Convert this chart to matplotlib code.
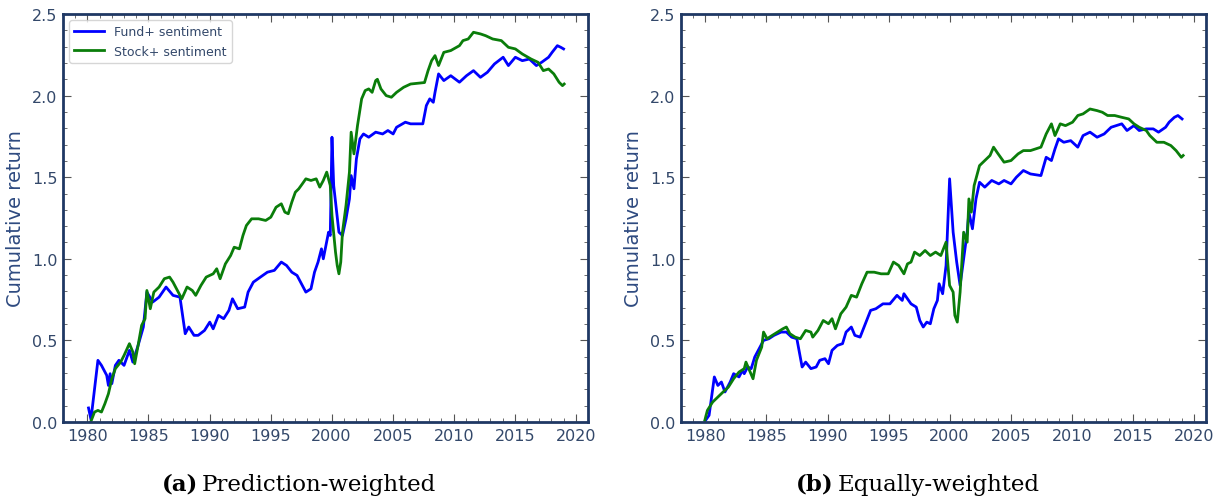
import matplotlib
matplotlib.use("Agg")
import matplotlib.pyplot as plt
from matplotlib.ticker import MultipleLocator

# ---- data ----
# (a) prediction-weighted
a_fund_x = [1980.09, 1980.29, 1980.86, 1981.15, 1981.58, 1981.72, 1981.86, 1982.0, 1982.29, 1982.58,
            1983.0, 1983.44, 1983.72, 1984.15, 1984.58, 1984.87, 1985.35, 1985.87, 1986.44, 1987.01,
            1987.58, 1988.01, 1988.3, 1988.73, 1989.07, 1989.59, 1990.02, 1990.3, 1990.73, 1991.16,
            1991.59, 1991.88, 1992.31, 1992.88, 1993.16, 1993.59, 1994.17, 1994.74, 1995.31, 1995.88,
            1996.31, 1996.74, 1997.17, 1997.6, 1997.89, 1998.31, 1998.6, 1998.89, 1999.17, 1999.32,
            1999.75, 1999.89, 2000.03, 2000.17, 2000.6, 2000.89, 2001.18, 2001.46, 2001.6, 2001.83,
            2002.03, 2002.32, 2002.61, 2003.04, 2003.61, 2004.18, 2004.61, 2005.04, 2005.32, 2006.04,
            2006.47, 2007.47, 2007.76, 2008.04, 2008.33, 2008.47, 2008.76, 2009.19, 2009.76, 2010.47,
            2011.05, 2011.62, 2012.19, 2012.76, 2013.34, 2014.05, 2014.48, 2015.05, 2015.62, 2016.2,
            2016.77, 2017.2, 2017.77, 2018.06, 2018.49, 2018.77, 2019.0]
a_fund_y = [0.086, 0.016, 0.378, 0.347, 0.286, 0.224, 0.296, 0.235, 0.347, 0.378,
            0.347, 0.439, 0.367, 0.469, 0.582, 0.796, 0.735, 0.765, 0.827, 0.776,
            0.765, 0.541, 0.582, 0.531, 0.531, 0.561, 0.612, 0.571, 0.653, 0.633,
            0.684, 0.755, 0.694, 0.704, 0.796, 0.857, 0.888, 0.918, 0.929, 0.98,
            0.959, 0.918, 0.898, 0.837, 0.796, 0.816, 0.918, 0.98, 1.061, 1.0,
            1.163, 1.143, 1.745, 1.449, 1.163, 1.143, 1.245, 1.367, 1.51, 1.429,
            1.612, 1.735, 1.765, 1.745, 1.776, 1.765, 1.786, 1.765, 1.806, 1.837,
            1.827, 1.827, 1.939, 1.98, 1.959, 2.02, 2.133, 2.092, 2.122, 2.082,
            2.122, 2.153, 2.112, 2.143, 2.194, 2.235, 2.184, 2.235, 2.214, 2.224,
            2.184, 2.204, 2.235, 2.265, 2.306, 2.296, 2.286]

a_stock_x = [1980.29, 1980.58, 1980.86, 1981.15, 1981.43, 1981.72, 1982.0, 1982.29, 1982.72, 1983.0,
             1983.44, 1983.72, 1983.87, 1984.15, 1984.44, 1984.72, 1984.87, 1985.15, 1985.44, 1985.87,
             1986.3, 1986.73, 1987.01, 1987.44, 1987.73, 1988.16, 1988.59, 1988.87, 1989.3, 1989.73,
             1990.3, 1990.59, 1990.87, 1991.3, 1991.73, 1992.02, 1992.45, 1992.74, 1993.02, 1993.45,
             1994.02, 1994.6, 1995.02, 1995.45, 1995.88, 1996.17, 1996.45, 1996.74, 1997.03, 1997.31,
             1997.6, 1997.89, 1998.31, 1998.74, 1999.03, 1999.32, 1999.6, 1999.89, 2000.03, 2000.32,
             2000.46, 2000.6, 2000.75, 2000.89, 2001.18, 2001.46, 2001.6, 2001.83, 2002.12, 2002.46,
             2002.75, 2003.04, 2003.32, 2003.61, 2003.75, 2004.04, 2004.47, 2004.9, 2005.32, 2005.9,
             2006.47, 2007.61, 2007.9, 2008.19, 2008.47, 2008.76, 2009.19, 2009.76, 2010.47, 2010.76,
             2011.19, 2011.62, 2012.19, 2012.62, 2013.19, 2013.9, 2014.48, 2015.05, 2015.62, 2016.34,
             2016.91, 2017.34, 2017.77, 2018.2, 2018.63, 2018.91, 2019.05]
a_stock_y = [0.004, 0.061, 0.071, 0.061, 0.112, 0.173, 0.265, 0.327, 0.367, 0.408,
             0.48, 0.429, 0.357, 0.469, 0.592, 0.633, 0.806, 0.694, 0.796, 0.827,
             0.878, 0.888, 0.857, 0.796, 0.755, 0.827, 0.806, 0.776, 0.837, 0.888,
             0.908, 0.939, 0.878, 0.969, 1.02, 1.071, 1.061, 1.143, 1.204, 1.245,
             1.245, 1.235, 1.255, 1.316, 1.337, 1.286, 1.276, 1.347, 1.408, 1.429,
             1.459, 1.49, 1.48, 1.49, 1.439, 1.48, 1.531, 1.449, 1.265, 1.041,
             0.959, 0.908, 0.98, 1.163, 1.327, 1.531, 1.776, 1.643, 1.816, 1.98,
             2.031, 2.041, 2.02, 2.092, 2.1, 2.041, 2.0, 1.99, 2.02, 2.051,
             2.071, 2.08, 2.153, 2.214, 2.245, 2.184, 2.265, 2.276, 2.306, 2.337,
             2.347, 2.388, 2.378, 2.367, 2.347, 2.337, 2.296, 2.286, 2.255, 2.224,
             2.204, 2.153, 2.163, 2.133, 2.082, 2.061, 2.071]

# (b) equally-weighted
b_fund_x = [1980.01, 1980.3, 1980.73, 1981.02, 1981.31, 1981.6, 1982.03, 1982.31, 1982.75, 1983.03,
            1983.18, 1983.46, 1983.75, 1984.04, 1984.47, 1984.76, 1985.19, 1985.62, 1986.2, 1986.63,
            1987.06, 1987.49, 1987.92, 1988.21, 1988.64, 1989.07, 1989.36, 1989.79, 1990.08, 1990.37,
            1990.8, 1991.23, 1991.52, 1991.95, 1992.24, 1992.67, 1993.1, 1993.53, 1993.96, 1994.54,
            1995.11, 1995.69, 1996.12, 1996.26, 1996.84, 1997.27, 1997.56, 1997.84, 1998.13, 1998.42,
            1998.71, 1999.0, 1999.14, 1999.43, 1999.71, 2000.0, 2000.29, 2000.58, 2000.86, 2001.15,
            2001.44, 2001.58, 2001.87, 2002.16, 2002.45, 2002.88, 2003.45, 2004.03, 2004.46, 2005.03,
            2005.47, 2006.04, 2006.62, 2007.48, 2007.91, 2008.34, 2008.63, 2008.92, 2009.35, 2009.92,
            2010.5, 2010.93, 2011.5, 2012.08, 2012.66, 2013.23, 2014.1, 2014.53, 2015.1, 2015.53,
            2016.11, 2016.68, 2017.11, 2017.69, 2017.98, 2018.41, 2018.7, 2019.04]
b_fund_y = [0.01, 0.041, 0.276, 0.224, 0.245, 0.184, 0.245, 0.296, 0.276, 0.316,
            0.296, 0.337, 0.327, 0.398, 0.459, 0.5, 0.51, 0.531, 0.551, 0.551,
            0.52, 0.51, 0.337, 0.367, 0.327, 0.337, 0.378, 0.388, 0.357, 0.439,
            0.469, 0.48, 0.551, 0.582, 0.531, 0.52, 0.602, 0.684, 0.694, 0.724,
            0.724, 0.776, 0.745, 0.786, 0.724, 0.704, 0.622, 0.582, 0.612, 0.602,
            0.694, 0.745, 0.847, 0.786, 0.959, 1.49, 1.163, 0.98, 0.837, 1.0,
            1.163, 1.286, 1.184, 1.367, 1.469, 1.439, 1.48, 1.459, 1.48, 1.459,
            1.5, 1.541, 1.52, 1.51, 1.622, 1.602, 1.673, 1.735, 1.714, 1.724,
            1.684, 1.755, 1.776, 1.745, 1.765, 1.806, 1.827, 1.786, 1.816, 1.786,
            1.796, 1.796, 1.776, 1.806, 1.837, 1.867, 1.878, 1.857]

b_stock_x = [1979.95, 1980.16, 1980.59, 1981.02, 1981.45, 1981.88, 1982.31, 1982.75, 1983.18, 1983.32,
             1983.61, 1983.9, 1984.18, 1984.61, 1984.76, 1985.05, 1985.48, 1985.91, 1986.34, 1986.63,
             1986.92, 1987.35, 1987.78, 1988.21, 1988.64, 1988.79, 1989.22, 1989.65, 1990.08, 1990.37,
             1990.65, 1991.09, 1991.52, 1991.95, 1992.38, 1992.81, 1993.24, 1993.82, 1994.39, 1994.97,
             1995.4, 1995.83, 1996.26, 1996.55, 1996.84, 1997.13, 1997.56, 1997.99, 1998.42, 1998.85,
             1999.28, 1999.71, 2000.0, 2000.29, 2000.43, 2000.63, 2000.86, 2001.15, 2001.44, 2001.58,
             2001.78, 2002.01, 2002.45, 2002.88, 2003.31, 2003.6, 2003.88, 2004.46, 2005.03, 2005.61,
             2006.04, 2006.62, 2007.48, 2007.91, 2008.34, 2008.63, 2009.06, 2009.49, 2010.07, 2010.5,
             2010.93, 2011.5, 2012.08, 2012.51, 2012.94, 2013.52, 2014.1, 2014.67, 2015.1, 2015.53,
             2016.11, 2016.4, 2016.97, 2017.55, 2018.12, 2018.55, 2018.98, 2019.13]
b_stock_y = [0.01, 0.071, 0.122, 0.153, 0.184, 0.214, 0.265, 0.306, 0.327, 0.367,
             0.316, 0.265, 0.378, 0.459, 0.551, 0.51, 0.531, 0.551, 0.571, 0.582,
             0.541, 0.52, 0.51, 0.561, 0.551, 0.52, 0.561, 0.622, 0.602, 0.633,
             0.571, 0.663, 0.704, 0.776, 0.765, 0.847, 0.918, 0.918, 0.908, 0.908,
             0.98, 0.959, 0.908, 0.969, 0.98, 1.041, 1.02, 1.051, 1.02, 1.041,
             1.02, 1.102, 0.837, 0.796, 0.653, 0.612, 0.796, 1.163, 1.102, 1.367,
             1.286, 1.449, 1.571, 1.602, 1.633, 1.684, 1.653, 1.592, 1.602, 1.643,
             1.663, 1.663, 1.684, 1.765, 1.827, 1.755, 1.827, 1.816, 1.837, 1.878,
             1.888, 1.918, 1.908, 1.898, 1.878, 1.878, 1.867, 1.857, 1.827, 1.806,
             1.786, 1.755, 1.714, 1.714, 1.694, 1.663, 1.622, 1.633]

series_labels = ["Fund+ sentiment", "Stock+ sentiment"]
captions = [("(a)", "Prediction-weighted"), ("(b)", "Equally-weighted")]

txt_col = "#33486a"
spine_col = "#1f3864"

fig = plt.figure(figsize=(12.25, 5.02), dpi=100)
ax1 = fig.add_axes([63 / 1225, 79 / 502, 525 / 1225, 408 / 502])
ax2 = fig.add_axes([681 / 1225, 79 / 502, 525 / 1225, 408 / 502])

panels = [(ax1, a_fund_x, a_fund_y, a_stock_x, a_stock_y),
          (ax2, b_fund_x, b_fund_y, b_stock_x, b_stock_y)]

for ax, fx, fy, sx, sy in panels:
    ax.plot(fx, fy, color="#0000ff", lw=2, label=series_labels[0])
    ax.plot(sx, sy, color="#0a7d0a", lw=2, label=series_labels[1])
    ax.set_xlim(1978, 2021)
    ax.set_ylim(0, 2.5)
    ax.xaxis.set_major_locator(MultipleLocator(5))
    ax.xaxis.set_minor_locator(MultipleLocator(1))
    ax.yaxis.set_major_locator(MultipleLocator(0.5))
    ax.yaxis.set_minor_locator(MultipleLocator(0.1))
    ax.tick_params(which="both", direction="in", top=True, right=True,
                   color="#555555", labelcolor=txt_col, labelsize=11.5, pad=4)
    ax.tick_params(which="major", length=6, width=0.8)
    ax.tick_params(which="minor", length=3, width=0.6)
    for s in ax.spines.values():
        s.set_color(spine_col)
        s.set_linewidth(2)
    ax.set_ylabel("Cumulative return", color="#2e4a80", fontsize=14, labelpad=5)

leg = ax1.legend(loc="upper left", fontsize=9, frameon=True, handlelength=2.4,
                 borderaxespad=0.5)
leg.get_frame().set_edgecolor("#cccccc")
for t in leg.get_texts():
    t.set_color(txt_col)

# caption under each panel: bold tag, then the name
cap_y = 1 - 485 / 502
for (tag, name), (x_tag, x_name) in zip(captions, [(162, 202), (796, 838)]):
    fig.text(x_tag / 1225, cap_y, tag, ha="left", va="center",
             fontsize=16.5, fontweight="bold", family="DejaVu Serif")
    fig.text(x_name / 1225, cap_y, name, ha="left", va="center",
             fontsize=16.5, family="DejaVu Serif")

fig.savefig("out.png", dpi=100)
